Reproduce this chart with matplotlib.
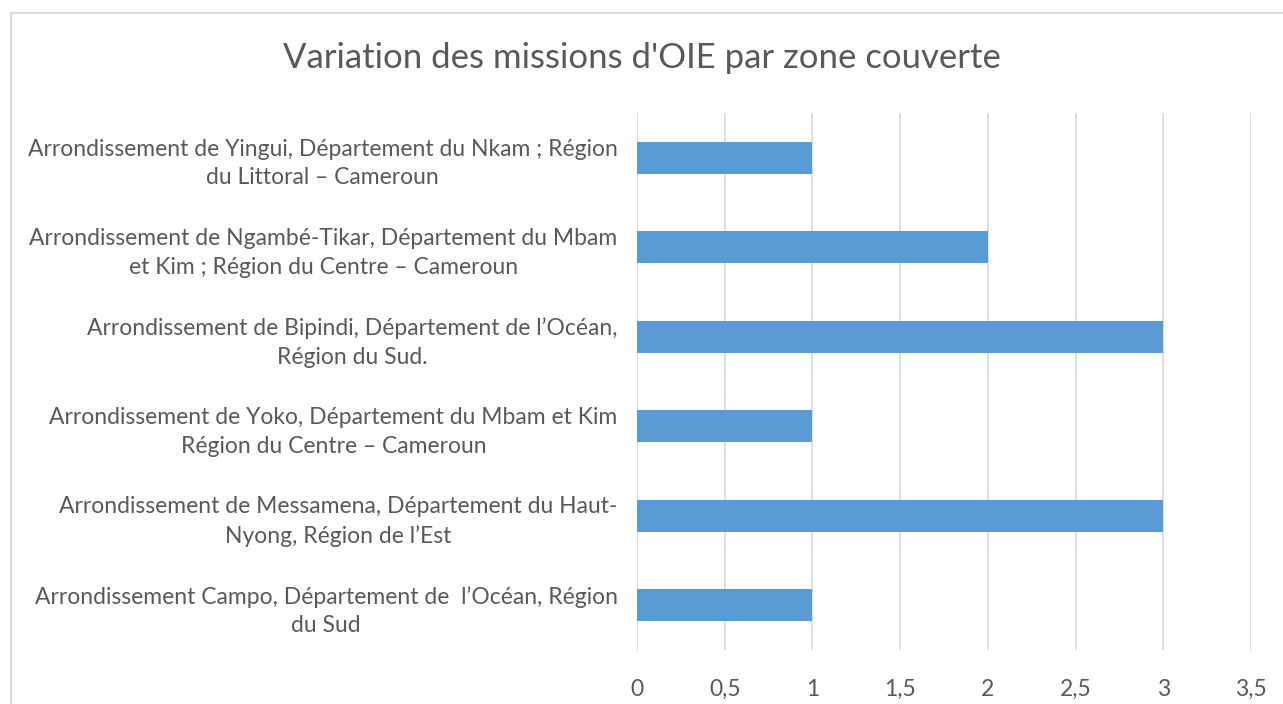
import matplotlib.pyplot as plt
from matplotlib.patches import Rectangle

# Data (top to bottom as shown)
zones = [
    "Arrondissement de Yingui, Département du Nkam ; Région\ndu Littoral – Cameroun",
    "Arrondissement de Ngambé-Tikar, Département du Mbam\net Kim ; Région du Centre – Cameroun",
    "Arrondissement de Bipindi, Département de l’Océan,\nRégion du Sud.",
    "Arrondissement de Yoko, Département du Mbam et Kim\nRégion du Centre – Cameroun",
    "Arrondissement de Messamena, Département du Haut-\nNyong, Région de l’Est",
    "Arrondissement Campo, Département de  l’Océan, Région\ndu Sud",
]
missions = [1, 2, 3, 1, 3, 1]
xticks = [0, 0.5, 1, 1.5, 2, 2.5, 3, 3.5]
xtick_labels = ["0", "0,5", "1", "1,5", "2", "2,5", "3", "3,5"]

plt.rcParams['font.family'] = ['Lato', 'DejaVu Sans']
txt = '#595959'

fig = plt.figure(figsize=(12.83, 7.04), dpi=100)
ax = fig.add_axes([637 / 1283, 1 - 650 / 704, (1251 - 637) / 1283, (650 - 113) / 704])

# chart border
fig.patches.append(Rectangle((11 / 1283, -0.05), 1.1, 1 - 13 / 704 + 0.05,
                             transform=fig.transFigure, fill=False,
                             edgecolor='#D9D9D9', linewidth=1.5))

pos = list(range(len(zones)))[::-1]
ax.barh(pos, missions, height=0.36, color='#5B9BD5', zorder=3)

ax.set_xlim(0, 3.5)
ax.set_ylim(-0.5, len(zones) - 0.5)
ax.set_xticks(xticks)
ax.set_xticklabels(xtick_labels)
ax.set_yticks(pos)
ax.set_yticklabels(zones, multialignment='center', linespacing=1.45)
ax.tick_params(axis='both', length=0, labelsize=16.5, colors=txt)
ax.tick_params(axis='x', pad=21)
ax.tick_params(axis='y', pad=14)
ax.grid(axis='x', color='#D9D9D9', linewidth=1.2, zorder=0)
for s in ax.spines.values():
    s.set_visible(False)

fig.text(0.5, 1 - 58 / 704, "Variation des missions d'OIE par zone couverte",
         ha='center', va='center', fontsize=25, color=txt)

fig.savefig('out.png', dpi=100)
